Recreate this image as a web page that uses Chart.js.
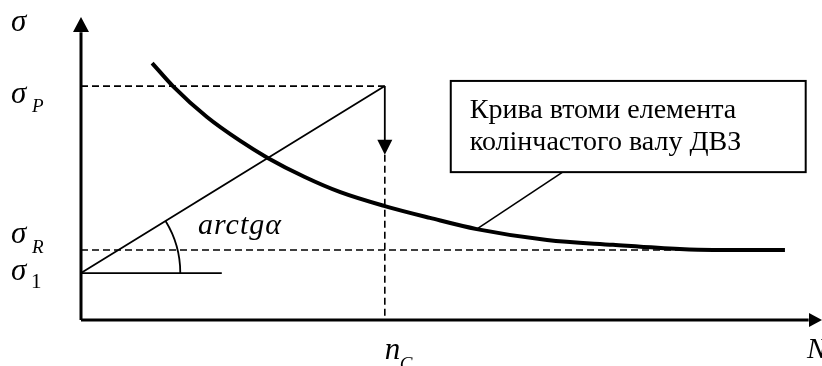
<!DOCTYPE html>
<html>
<head>
<meta charset="utf-8">
<script src="https://cdn.jsdelivr.net/npm/chart.js@4/dist/chart.umd.min.js"></script>
<style>
  html, body { margin: 0; padding: 0; background: #fff; }
  #wrap { width: 822px; height: 366px; position: relative; }
</style>
</head>
<body>
<div id="wrap"><canvas id="c"></canvas></div>
<script>
// Axis ranges (arbitrary units: cycles N along x, stress σ along y)
const nRange = [0, 100];
const sigmaRange = [0, 100];

// Characteristic stress levels and the cycle count n_C
const sigmaP = 77.2;
const sigmaR = 23.1;
const sigma1 = 15.5;
const nC = 41.0;
const loadArrowSigma = 54.5;   // where the downward load arrow ends
const sigma1LineEnd = 19.0;    // length of the σ1 reference stub
const angleArcRadius = 13.4;   // radius of the arctg α arc, in N units

// Fatigue curve of the crankshaft element
const curveN     = [9.6, 12.4, 17.0, 21.5, 25.2, 30.2, 35.0, 41.0, 47.1, 53.4, 62.9, 71.8, 80.8, 85.3, 95.0];
const curveSigma = [84.8, 77.2, 67.0, 59.1, 53.5, 47.2, 42.2, 37.6, 33.7, 30.0, 26.4, 24.8, 23.4, 23.1, 23.1];

// Callout box and its leader line
const leaderN     = [53.4, 65.0];
const leaderSigma = [30.0, 48.8];
const boxN        = [49.9, 97.8];
const boxSigma    = [48.8, 78.9];
const boxLines    = ['Крива втоми елемента', 'колінчастого валу ДВЗ'];

const pts = (xs, ys) => xs.map((x, i) => ({ x, y: ys[i] }));

const solid = (data, width) => ({
  data, borderColor: '#000', borderWidth: width, pointRadius: 0,
  fill: false, clip: false, tension: 0
});
const dashed = (data, width) => Object.assign(solid(data, width), { borderDash: [7, 4] });

const datasets = [
  Object.assign(solid(pts(curveN, curveSigma), 4), { cubicInterpolationMode: 'monotone', order: 0 }),
  // axes (arrowheads added by the plugin)
  solid([{ x: 0, y: 0 }, { x: 0, y: 95 }], 3),
  solid([{ x: 0, y: 0 }, { x: 98.2, y: 0 }], 3),
  // σ_P and σ_R levels
  dashed([{ x: 0, y: sigmaP }, { x: nC, y: sigmaP }], 1.6),
  dashed([{ x: 0, y: sigmaR }, { x: 95, y: sigmaR }], 1.6),
  // loading ray from σ1 and its reference stub
  solid([{ x: 0, y: sigma1 }, { x: nC, y: sigmaP }], 1.8),
  solid([{ x: 0, y: sigma1 }, { x: sigma1LineEnd, y: sigma1 }], 1.8),
  // drop at n_C
  solid([{ x: nC, y: sigmaP }, { x: nC, y: loadArrowSigma + 4 }], 1.8),
  dashed([{ x: nC, y: loadArrowSigma }, { x: nC, y: 0 }], 1.6),
  // leader to the callout
  solid(pts(leaderN, leaderSigma), 1.6)
];

function triangle(ctx, tipX, tipY, dirX, dirY, len, half) {
  const bx = tipX - dirX * len, by = tipY - dirY * len;
  const px = -dirY, py = dirX;
  ctx.beginPath();
  ctx.moveTo(tipX, tipY);
  ctx.lineTo(bx + px * half, by + py * half);
  ctx.lineTo(bx - px * half, by - py * half);
  ctx.closePath();
  ctx.fill();
}

function text(ctx, str, x, y, font, spacing) {
  ctx.font = font;
  ctx.letterSpacing = (spacing || 0) + 'px';
  ctx.fillText(str, x, y);
}

const schemePlugin = {
  id: 'scheme',
  afterDatasetsDraw(chart) {
    const ctx = chart.ctx;
    const X = chart.scales.x, Y = chart.scales.y;
    const px = v => X.getPixelForValue(v);
    const py = v => Y.getPixelForValue(v);
    ctx.save();
    ctx.fillStyle = '#000';
    ctx.strokeStyle = '#000';

    // arrowheads
    triangle(ctx, px(0), py(sigmaRange[1]), 0, -1, 15, 8);
    triangle(ctx, px(nRange[1]), py(0), 1, 0, 13, 7);
    triangle(ctx, px(nC), py(loadArrowSigma), 0, 1, 15, 7.5);

    // angle arc between the σ1 stub and the loading ray
    const cx = px(0), cy = py(sigma1);
    const ang = Math.atan2(py(sigmaP) - cy, px(nC) - cx);
    const r = px(angleArcRadius) - px(0);
    ctx.lineWidth = 1.8;
    ctx.beginPath();
    ctx.arc(cx, cy, r, ang, 0);
    ctx.stroke();

    // callout box
    const bl = px(boxN[0]), br = px(boxN[1]);
    const bt = py(boxSigma[1]), bb = py(boxSigma[0]);
    ctx.fillStyle = '#fff';
    ctx.fillRect(bl, bt, br - bl, bb - bt);
    ctx.lineWidth = 2;
    ctx.strokeRect(bl, bt, br - bl, bb - bt);
    ctx.fillStyle = '#000';
    ctx.textBaseline = 'alphabetic';
    ctx.textAlign = 'left';
    const serif = '"Liberation Serif", "Times New Roman", serif';
    text(ctx, boxLines[0], bl + 19, bt + 37, `28px ${serif}`);
    text(ctx, boxLines[1], bl + 19, bt + 69, `28px ${serif}`);

    // axis and level labels
    const it = s => `italic ${s}px ${serif}`;
    text(ctx, 'σ', 11, py(sigmaRange[1]) + 14, it(31));
    text(ctx, 'σ', 11, py(sigmaP) + 17, it(31));
    text(ctx, 'P', 32, py(sigmaP) + 26, it(19));
    text(ctx, 'σ', 11, py(sigmaR) - 7, it(31));
    text(ctx, 'R', 32, py(sigmaR) + 3, it(19));
    text(ctx, 'σ', 11, py(sigma1) + 7, it(31));
    text(ctx, '1', 31, py(sigma1) + 15, `21px ${serif}`);
    text(ctx, 'arctgα', px(0) + 117, py(sigma1) - 39, it(30), 1);
    text(ctx, 'n', px(nC), py(0) + 39, it(31));
    text(ctx, 'C', px(nC) + 15, py(0) + 50, it(19));
    text(ctx, 'N', px(nRange[1]) - 15, py(0) + 38, it(29));
    ctx.restore();
  }
};

new Chart(document.getElementById('c'), {
  type: 'line',
  data: { datasets },
  options: {
    responsive: true,
    maintainAspectRatio: false,
    animation: false,
    layout: { padding: { left: 81, top: 17, right: 0, bottom: 46 } },
    plugins: { legend: { display: false }, tooltip: { enabled: false } },
    scales: {
      x: { type: 'linear', min: nRange[0], max: nRange[1], display: false },
      y: { type: 'linear', min: sigmaRange[0], max: sigmaRange[1], display: false }
    }
  },
  plugins: [schemePlugin]
});
</script>
</body>
</html>
